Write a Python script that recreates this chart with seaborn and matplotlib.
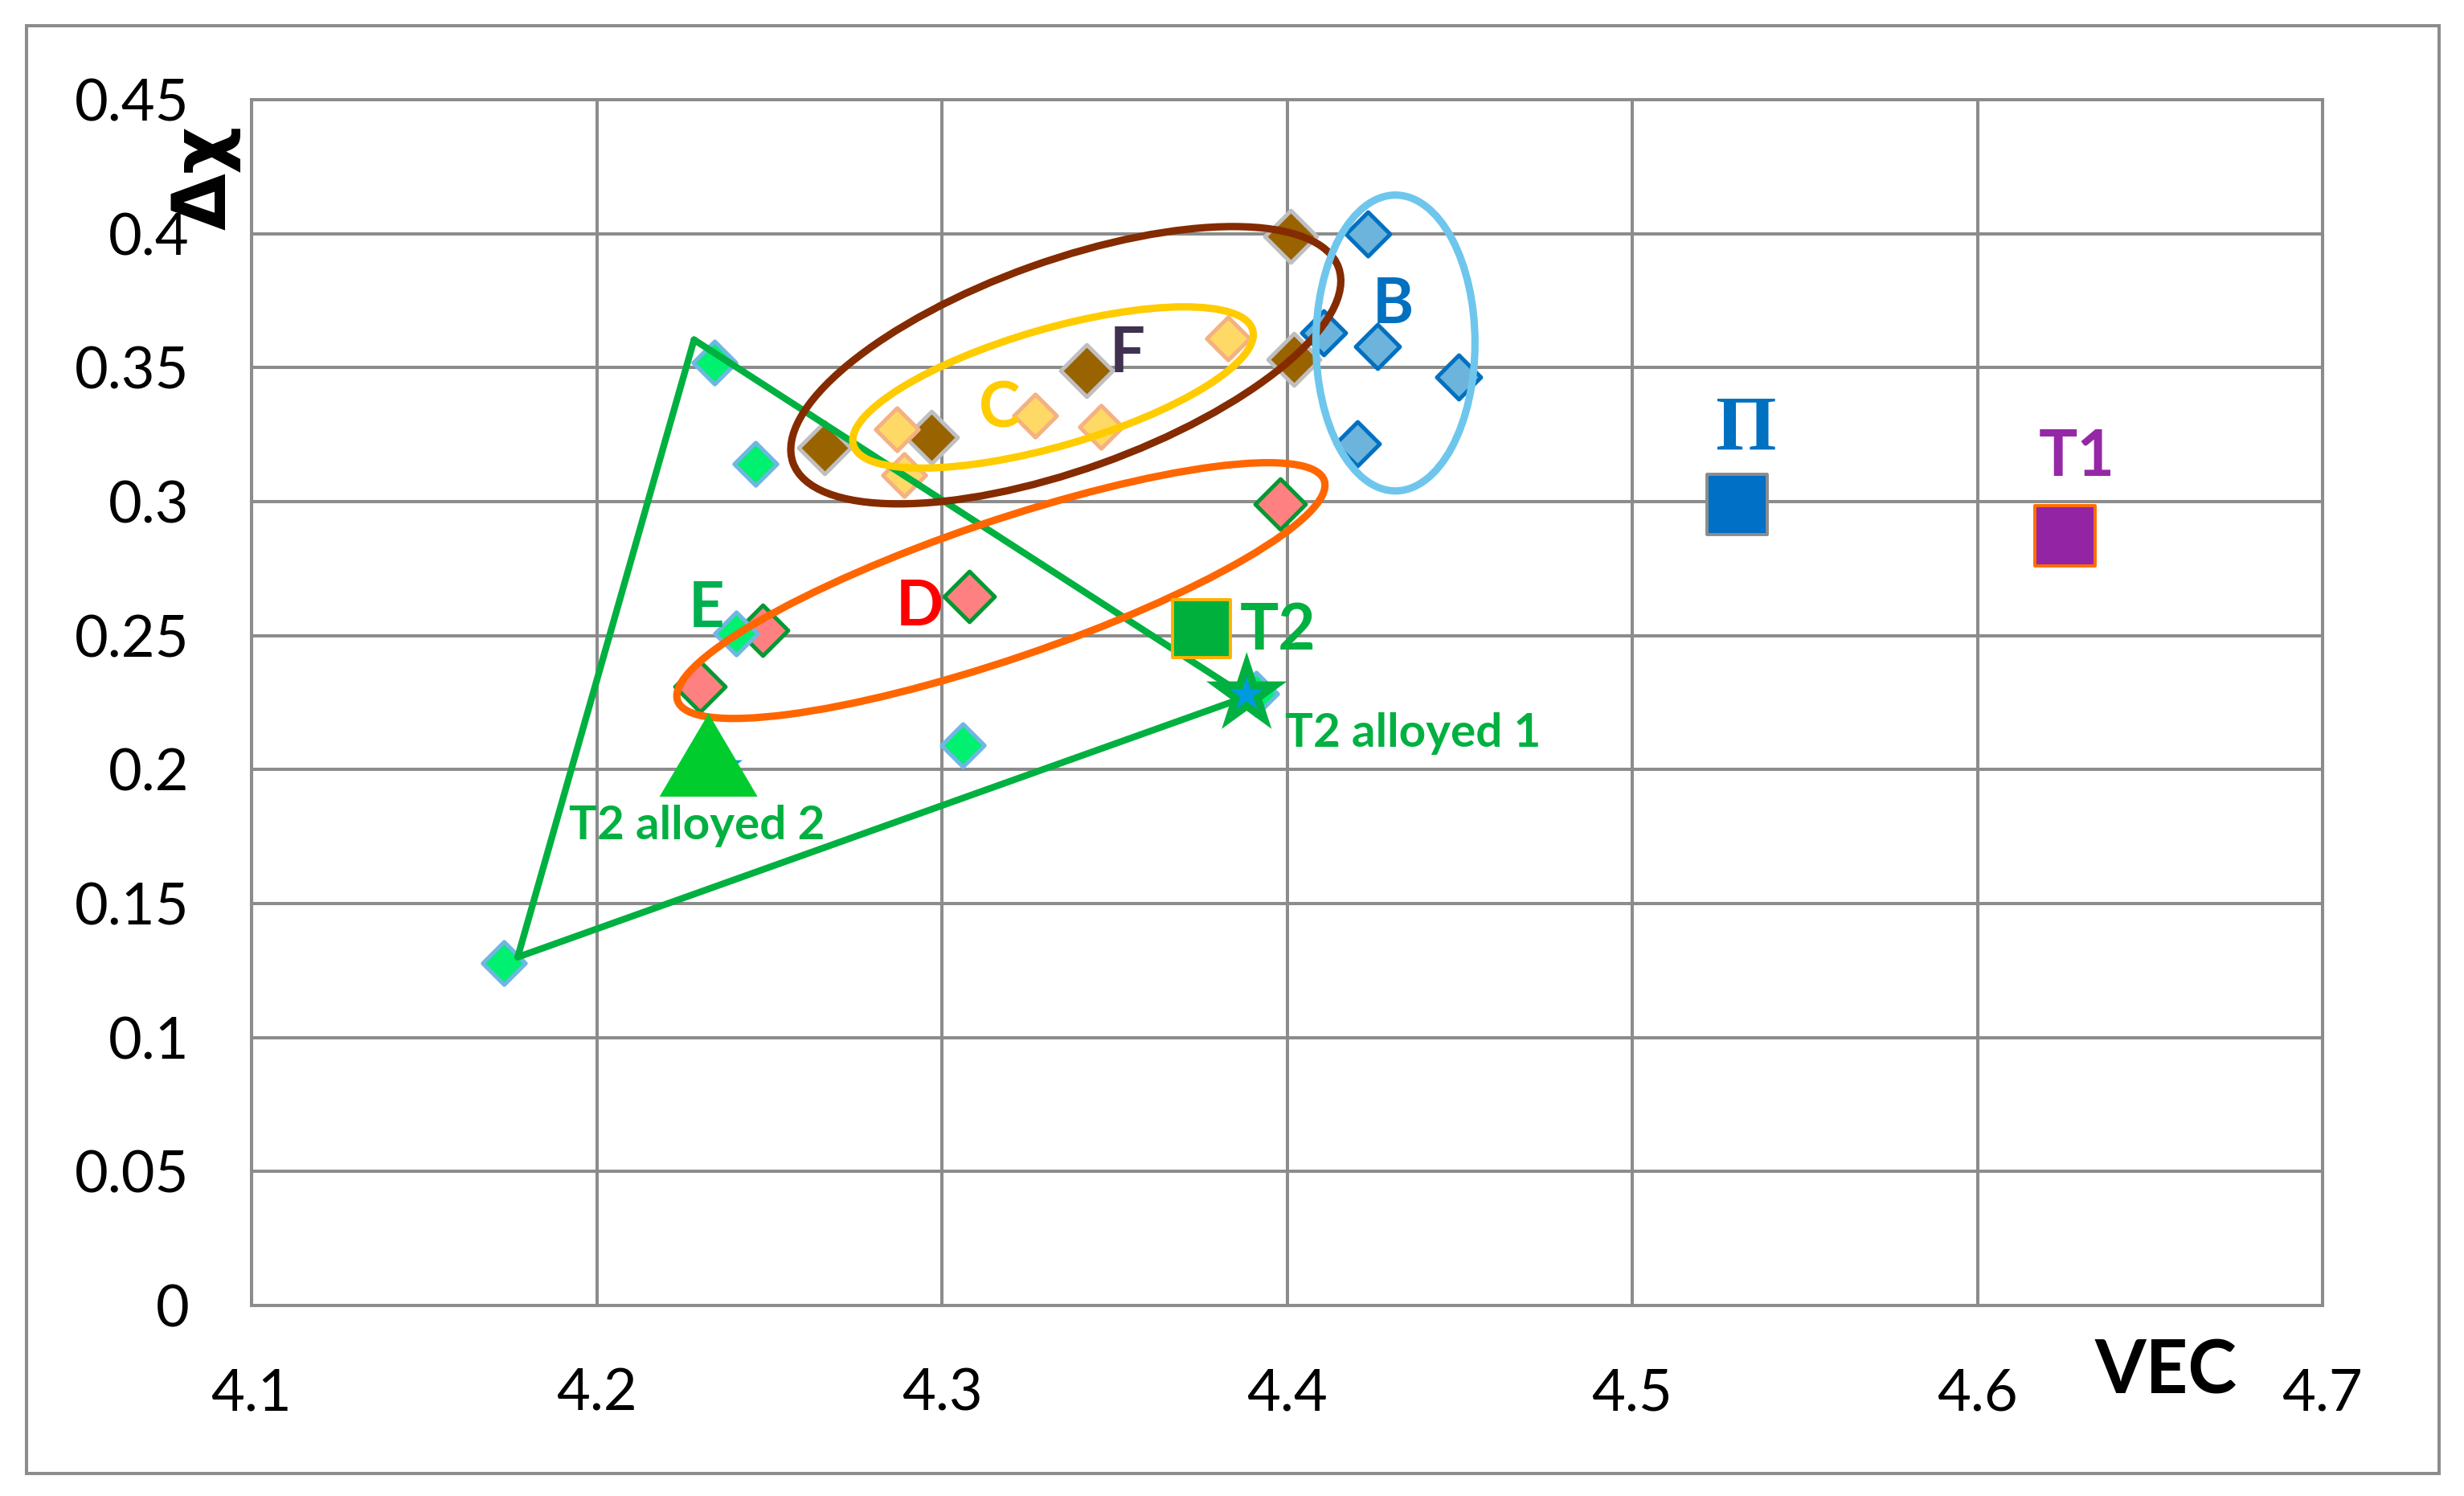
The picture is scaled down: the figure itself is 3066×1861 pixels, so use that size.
import numpy as np
import pandas as pd
import matplotlib
matplotlib.use("Agg")
import matplotlib.pyplot as plt
import seaborn as sns
from matplotlib.patches import Ellipse, Rectangle
from matplotlib.transforms import ScaledTranslation

# ---------------- data (VEC, delta chi) ----------------
b_vec = [4.4233, 4.4105, 4.4263, 4.4497, 4.4203]
b_dchi = [0.400, 0.363, 0.358, 0.3465, 0.3217]

c_vec = [4.383, 4.327, 4.346, 4.287, 4.289]
c_dchi = [0.361, 0.332, 0.328, 0.327, 0.310]

f_vec = [4.401, 4.402, 4.342, 4.297, 4.266]
f_dchi = [0.399, 0.353, 0.349, 0.324, 0.320]

d_vec = [4.398, 4.308, 4.248, 4.230]
d_dchi = [0.299, 0.2646, 0.2521, 0.231]

e_vec = [4.234, 4.246, 4.2405, 4.306, 4.391, 4.1732]
e_dchi = [0.352, 0.314, 0.2508, 0.209, 0.2284, 0.1277]

tri_vec = [4.2282, 4.3883, 4.1771, 4.2282]
tri_dchi = [0.3604, 0.2272, 0.1300, 0.3604]

pi_vec, pi_dchi = [4.5302], [0.299]
t1_vec, t1_dchi = [4.6252], [0.2875]
t2_vec, t2_dchi = [4.3751], [0.2525]
t2a1_vec, t2a1_dchi = [4.3883], [0.228]
t2a2_vec, t2a2_dchi = [4.2324], [0.2054]
t2a2s_vec, t2a2s_dchi = [4.2375], [0.2015]

x_ticks = [4.1, 4.2, 4.3, 4.4, 4.5, 4.6, 4.7]
x_labels = ["4.1", "4.2", "4.3", "4.4", "4.5", "4.6", "4.7"]
y_ticks = [0, 0.05, 0.1, 0.15, 0.2, 0.25, 0.3, 0.35, 0.4, 0.45]
y_labels = ["0", "0.05", "0.1", "0.15", "0.2", "0.25", "0.3", "0.35", "0.4", "0.45"]

# ---------------- style ----------------
sns.set_theme(style="white")
plt.rcParams["font.family"] = ["Lato", "DejaVu Sans"]

DPI = 200
fig = plt.figure(figsize=(3066 / DPI, 1861 / DPI), dpi=DPI)
L, R, T, B = 313, 2890, 124, 1624
ax = fig.add_axes([L / 3066, (1861 - B) / 1861, (R - L) / 3066, (B - T) / 1861])

GRAY = "#8c8c8c"
ax.set_axisbelow(True)
ax.grid(True, color=GRAY, linewidth=1.45)
for sp in ax.spines.values():
    sp.set_color(GRAY)
    sp.set_linewidth(1.45)

# outer frame
fig.add_artist(Rectangle((33 / 3066, (1861 - 1833) / 1861), (3035 - 33) / 3066,
                         (1833 - 32) / 1861, transform=fig.transFigure,
                         fill=False, edgecolor=GRAY, linewidth=1.45))


def sc(x, y, marker, s, fc, ec, lw, z):
    sns.scatterplot(x=x, y=y, marker=marker, s=s, color=fc, edgecolor=ec,
                    linewidth=lw, zorder=z, ax=ax, legend=False)


# diamonds
sc(f_vec, f_dchi, "D", 272, "#996300", "#bfbfbf", 1.8, 3)
sc(c_vec, c_dchi, "D", 185, "#ffd966", "#f4b183", 1.8, 3.1)
sc(b_vec, b_dchi, "D", 196, "#6cb4dc", "#0070c0", 1.8, 3)
sc(d_vec, d_dchi, "D", 256, "#ff8080", "#009933", 1.8, 3)
sc(e_vec, e_dchi, "D", 185, "#00f070", "#6fb7e3", 1.8, 3.2)

# green triangle outline
sns.lineplot(x=tri_vec, y=tri_dchi, sort=False, estimator=None, color="#00b040",
             linewidth=3.0, zorder=4, ax=ax, legend=False)

# squares
sc(pi_vec, pi_dchi, "s", 729, "#0070c6", GRAY, 1.4, 6)
sc(t1_vec, t1_dchi, "s", 729, "#9325a5", "#ff6d00", 1.4, 6)
sc(t2_vec, t2_dchi, "s", 676, "#00b03c", "#ffb000", 1.4, 6)

# stars and triangle
sc(t2a2s_vec, t2a2s_dchi, "*", 240, "#009ade", "none", 0, 5.5)
sc(t2a2_vec, t2a2_dchi, [(-1.18, -1), (1.18, -1), (0, 1)], 1930, "#00cc2e", "none", 0, 6)
sc(t2a1_vec, t2a1_dchi, "*", 1450, "#00b040", "none", 0, 6)
sc(t2a1_vec, t2a1_dchi, "*", 260, "#009ade", "none", 0, 6.1)

# group ellipses: (center VEC, center dchi, width px, height px, angle, colour)
ellipse_cx = [4.3359, 4.3322, 4.3171, 4.4314]
ellipse_cy = [0.3509, 0.3426, 0.2668, 0.3592]
ellipse_w = [721, 517, 850, 198]
ellipse_h = [260, 146, 171, 368]
ellipse_ang = [19.7, 16.1, 18.8, 0]
ellipse_col = ["#842b00", "#ffcc00", "#ff6600", "#6ec6ec"]
for cx, cy, w, h, a, col in zip(ellipse_cx, ellipse_cy, ellipse_w, ellipse_h,
                                ellipse_ang, ellipse_col):
    tr = fig.dpi_scale_trans + ScaledTranslation(cx, cy, ax.transData)
    e = Ellipse((0, 0), w / DPI, h / DPI, angle=a, transform=tr, fill=False,
                edgecolor=col, linewidth=3.3, zorder=5)
    ax.add_patch(e)

# group labels
lab_txt = ["F", "C", "B", "D", "E", "T2", "T1"]
lab_x = [4.3538, 4.3166, 4.4307, 4.2935, 4.2317, 4.3974, 4.6288]
lab_y = [0.3484, 0.3276, 0.3667, 0.2537, 0.2533, 0.2449, 0.3097]
lab_col = ["#403151", "#ffcc00", "#0070c0", "#ff0000", "#00b050", "#00b040", "#9528a6"]
lab_size = [28, 28, 28, 28, 28, 29, 29]
for t, x, y, c, s in zip(lab_txt, lab_x, lab_y, lab_col, lab_size):
    ax.text(x, y, t, color=c, fontsize=s, fontweight="bold", ha="center",
            va="baseline", zorder=7)

ax.text(4.5327, 0.3192, "Π", color="#0070c0", fontsize=35, fontweight="bold",
        family=["Liberation Serif", "DejaVu Serif"], ha="center", va="baseline", zorder=7)

ax.text(4.4364, 0.2084, "T2 alloyed 1", color="#00b040", fontsize=21,
        fontweight="bold", ha="center", va="baseline", zorder=7)
ax.text(4.2290, 0.1739, "T2 alloyed 2", color="#00b040", fontsize=21,
        fontweight="bold", ha="center", va="baseline", zorder=7)

# axes
ax.set_xlim(4.1, 4.7)
ax.set_ylim(0, 0.45)
ax.set_xticks(x_ticks)
ax.set_xticklabels(x_labels)
ax.set_yticks(y_ticks)
ax.set_yticklabels(y_labels)
ax.tick_params(axis="both", length=0, labelsize=26, pad=28, labelcolor="black")

ax.set_xlabel("VEC", fontsize=33, fontweight="bold", color="black", va="top")
ax.xaxis.set_label_coords(0.9243, -0.028)
ax.set_ylabel("")
ax.text(-0.0225, 0.935, "Δχ", transform=ax.transAxes, rotation=90, fontsize=33,
        fontweight="bold", family=["DejaVu Sans"], ha="center",
        va="center", color="black")

fig.savefig("out.png", dpi=DPI, facecolor="white")
